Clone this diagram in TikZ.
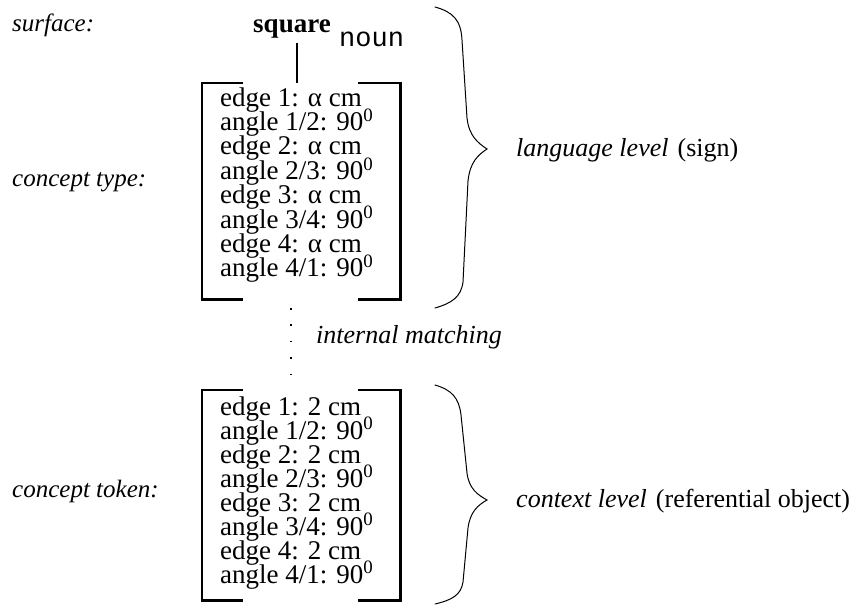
\documentclass[tikz,border=0pt]{standalone}
\usepackage{fontspec}
\setmainfont{Liberation Serif}
\setmonofont{Liberation Mono}
\begin{document}
\begin{tikzpicture}[x=1pt,y=-1pt,
  txt/.style={inner sep=0pt, anchor=base west, font=\fontsize{27}{27}\selectfont},
  lbl/.style={inner sep=0pt, anchor=base west, font=\fontsize{25}{25}\selectfont\itshape},
  rlbl/.style={inner sep=0pt, anchor=base west, font=\fontsize{26}{26}\selectfont},
  bracket/.style={line width=2.6pt, line cap=butt, line join=miter},
  bracecurve/.style={line width=1pt, line cap=round},
  boxframe/.style={draw=none, inner sep=0pt, anchor=north west, minimum width=198pt},
]
\useasboundingbox (0,0) rectangle (861,606);

% left labels
\node[lbl] (surf) at (12,31) {surface:};
\node[lbl] (ctype) at (12,186) {concept type:};
\node[lbl] (ctoken) at (12,497) {concept token:};

% surface word
\node[inner sep=0pt, anchor=base, font=\fontsize{27}{27}\selectfont\bfseries] (square) at (292,32) {square};
\node[inner sep=0pt, anchor=base west, font=\fontsize{27}{27}\selectfont\ttfamily] (noun) at (339,46) {noun};

% boxes
\node[boxframe, minimum height=216pt] (box1) at (202,83) {};
\node[boxframe, minimum height=210pt] (box2) at (202,390) {};

\foreach \b in {box1,box2}{
  \draw[bracket] ([xshift=41pt]\b.north west) -- (\b.north west) -- (\b.south west) -- ([xshift=41pt]\b.south west);
  \draw[bracket] ([xshift=-42pt]\b.north east) -- (\b.north east) -- (\b.south east) -- ([xshift=-42pt]\b.south east);
}

% connector square -> box1
\draw[line width=1.6pt] ([xshift=5pt,yshift=-5pt]square.south) -- ([xshift=5pt]square.south |- box1.north);

% box 1 contents
\foreach \t [count=\i] in {edge 1: α cm, angle 1/2: 90\textsuperscript{0}, edge 2: α cm, angle 2/3: 90\textsuperscript{0}, edge 3: α cm, angle 3/4: 90\textsuperscript{0}, edge 4: α cm, angle 4/1: 90\textsuperscript{0}}{
  \node[txt] (a\i) at (220,{106+(\i-1)*24.4}) {\t};
}
% box 2 contents
\foreach \t [count=\i] in {edge 1: 2 cm, angle 1/2: 90\textsuperscript{0}, edge 2: 2 cm, angle 2/3: 90\textsuperscript{0}, edge 3: 2 cm, angle 3/4: 90\textsuperscript{0}, edge 4: 2 cm, angle 4/1: 90\textsuperscript{0}}{
  \node[txt] (b\i) at (220,{415+(\i-1)*24}) {\t};
}

% dotted internal matching
\coordinate (d1) at (291,308);
\coordinate (d2) at (291,375);
\draw[line width=1.4pt, dash pattern=on 1.5pt off 14.9pt] (d1) -- (d2);
\node[lbl, font=\fontsize{26}{26}\selectfont\itshape] (match) at (316,343) {internal matching};

% braces
\draw[bracecurve] (435,7) .. controls (453,12) and (461,20) .. (462,40)
  -- (467,118) .. controls (469,136) and (478,143) .. (487,149)
  .. controls (478,155) and (470,162) .. (468,181)
  -- (463,282) .. controls (461,297) and (452,303) .. (435,308);
\draw[bracecurve] (435,385) .. controls (452,390) and (459,398) .. (461,415)
  -- (467,473) .. controls (469,489) and (478,495) .. (487,500)
  .. controls (478,505) and (470,512) .. (468,528)
  -- (463,582) .. controls (461,595) and (452,600) .. (435,604);

% right labels
\node[rlbl] (lang) at (516,156) {\textit{language level}\hspace{0.35em}(sign)};
\node[rlbl] (ctx) at (516,507) {\textit{context level}\hspace{0.35em}(referential object)};
\end{tikzpicture}
\end{document}
